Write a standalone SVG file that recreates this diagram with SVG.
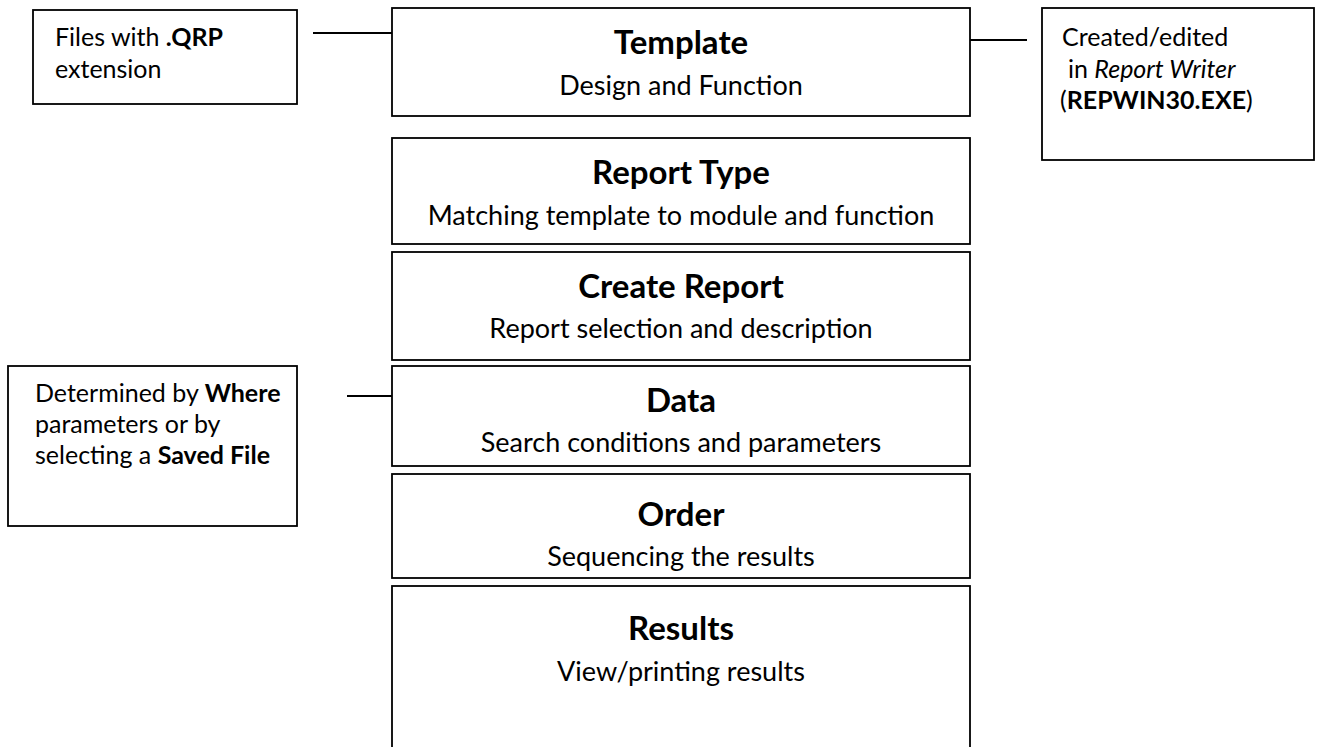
<svg xmlns="http://www.w3.org/2000/svg" width="1317" height="747" viewBox="0 0 1317 747">
<style>
.box{fill:#fff;stroke:#000;stroke-width:1.8}
.ln{stroke:#000;stroke-width:1.8;fill:none}
text{font-family:Lato,"Open Sans","Liberation Sans",sans-serif;fill:#000}
.t{font-size:33px;font-weight:bold;text-anchor:middle}
.s{font-size:27px;text-anchor:middle}
.n{font-size:25px}
.b{font-weight:bold}
.i{font-style:italic}
</style>
<rect width="1317" height="747" fill="#fff"/>
<g id="connectors">
<line class="ln" x1="313" y1="33" x2="398" y2="33"/>
<line class="ln" x1="966" y1="40" x2="1027" y2="40"/>
<line class="ln" x1="347" y1="396" x2="392" y2="396"/>
</g>
<g id="template"><rect class="box" x="392" y="8" width="578" height="108"/>
<text class="t" x="681" y="54">Template</text><text class="s" x="681" y="95">Design and Function</text></g>
<g id="reporttype"><rect class="box" x="392" y="138" width="578" height="106"/>
<text class="t" x="681" y="184">Report Type</text><text class="s" x="681" y="225">Matching template to module and function</text></g>
<g id="createreport"><rect class="box" x="392" y="252" width="578" height="108"/>
<text class="t" x="681" y="298">Create Report</text><text class="s" x="681" y="338">Report selection and description</text></g>
<g id="data"><rect class="box" x="392" y="366" width="578" height="100"/>
<text class="t" x="681" y="412">Data</text><text class="s" x="681" y="452">Search conditions and parameters</text></g>
<g id="order"><rect class="box" x="392" y="474" width="578" height="104"/>
<text class="t" x="681" y="526">Order</text><text class="s" x="681" y="566">Sequencing the results</text></g>
<g id="results"><rect class="box" x="392" y="586" width="578" height="170"/>
<text class="t" x="681" y="640">Results</text><text class="s" x="681" y="681">View/printing results</text></g>
<g id="note-qrp"><rect class="box" x="33" y="10" width="264" height="94"/>
<text class="n" x="55" y="46">Files with <tspan class="b">.QRP</tspan></text>
<text class="n" x="55" y="78">extension</text></g>
<g id="note-repwin"><rect class="box" x="1042" y="8" width="272" height="152"/>
<text class="n" x="1062" y="46">Created/edited</text>
<text class="n" x="1068" y="78">in <tspan class="i">Report Writer</tspan></text>
<text class="n" x="1060" y="109">(<tspan class="b">REPWIN30.EXE</tspan>)</text></g>
<g id="note-where"><rect class="box" x="8" y="366" width="289" height="160"/>
<text class="n" x="35" y="402">Determined by <tspan class="b">Where</tspan></text>
<text class="n" x="35" y="433">parameters or by</text>
<text class="n" x="35" y="464">selecting a <tspan class="b">Saved File</tspan></text></g>
</svg>
